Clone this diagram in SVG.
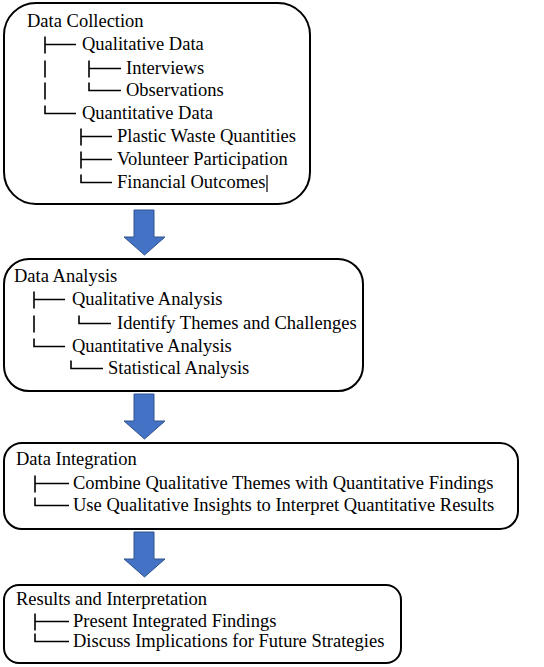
<svg xmlns="http://www.w3.org/2000/svg" width="544" height="667" viewBox="0 0 544 667">
<defs>
<polygon id="arrow" points="0,0 20,0 20,27 31,27 10.5,45 -10,27 0,27" fill="#4472C4" stroke="#2F528F" stroke-width="1"/>
</defs>
<rect width="544" height="667" fill="#fff"/>
<g id="connectors">
<use href="#arrow" x="134" y="210"/>
<use href="#arrow" x="134" y="394"/>
<use href="#arrow" x="134" y="532"/>
</g>
<g id="node-data-collection">
<rect x="4" y="3" width="306" height="201" rx="32" fill="#fff" stroke="#000" stroke-width="2"/>
<text x="27" y="27" style="font-family:'Times New Roman',serif;font-size:18.5px">Data Collection</text>
<text x="82" y="50" style="font-family:'Times New Roman',serif;font-size:18.5px">Qualitative Data</text>
<text x="126" y="74" style="font-family:'Times New Roman',serif;font-size:18.5px">Interviews</text>
<text x="126" y="96" style="font-family:'Times New Roman',serif;font-size:18.5px">Observations</text>
<text x="82" y="119" style="font-family:'Times New Roman',serif;font-size:18.5px">Quantitative Data</text>
<text x="117" y="142" style="font-family:'Times New Roman',serif;font-size:18.5px">Plastic Waste Quantities</text>
<text x="117" y="165" style="font-family:'Times New Roman',serif;font-size:18.5px">Volunteer Participation</text>
<text x="117" y="188" style="font-family:'Times New Roman',serif;font-size:18.5px">Financial Outcomes</text>
<path fill="none" stroke="#000" stroke-width="1.6" d="M45 36.5V53.5M45 44.5H76M45 60.5V77.5M45 82.5V99.5M45 105.5V113.5H76M89 60.5V77.5M89 68.5H121M89 82.5V90.5H121M81 128.5V145.5M81 136.5H112M81 151.5V168.5M81 159.5H112M81 174.5V182.5H112"/>
<path fill="none" stroke="#000" stroke-width="1.2" d="M267 175V192"/>
</g>
<g id="node-data-analysis">
<rect x="4" y="259" width="359" height="132" rx="25" fill="#fff" stroke="#000" stroke-width="2"/>
<text x="14" y="282" style="font-family:'Times New Roman',serif;font-size:18.5px">Data Analysis</text>
<text x="72" y="305" style="font-family:'Times New Roman',serif;font-size:18.5px">Qualitative Analysis</text>
<text x="117" y="329" style="font-family:'Times New Roman',serif;font-size:18.5px">Identify Themes and Challenges</text>
<text x="72" y="352" style="font-family:'Times New Roman',serif;font-size:18.5px">Quantitative Analysis</text>
<text x="108" y="374" style="font-family:'Times New Roman',serif;font-size:18.5px">Statistical Analysis</text>
<path fill="none" stroke="#000" stroke-width="1.6" d="M34 291.5V308.5M34 299.5H65M34 315.5V332.5M34 338.5V346.5H65M79 315.5V323.5H111M71 360.5V368.5H103"/>
</g>
<g id="node-data-integration">
<rect x="4" y="443" width="514" height="86" rx="18" fill="#fff" stroke="#000" stroke-width="2"/>
<text x="16" y="465" style="font-family:'Times New Roman',serif;font-size:18.5px">Data Integration</text>
<text x="73" y="489" style="font-family:'Times New Roman',serif;font-size:18.5px">Combine Qualitative Themes with Quantitative Findings</text>
<text x="73" y="511" style="font-family:'Times New Roman',serif;font-size:18.5px">Use Qualitative Insights to Interpret Quantitative Results</text>
<path fill="none" stroke="#000" stroke-width="1.6" d="M35 475.5V492.5M35 483.5H69M35 497.5V505.5H69"/>
</g>
<g id="node-results">
<rect x="4" y="585" width="397" height="78" rx="15" fill="#fff" stroke="#000" stroke-width="2"/>
<text x="16" y="605" style="font-family:'Times New Roman',serif;font-size:18.5px">Results and Interpretation</text>
<text x="73" y="627" style="font-family:'Times New Roman',serif;font-size:18.5px">Present Integrated Findings</text>
<text x="73" y="647" style="font-family:'Times New Roman',serif;font-size:18.5px">Discuss Implications for Future Strategies</text>
<path fill="none" stroke="#000" stroke-width="1.6" d="M35 613.5V630.5M35 621.5H69M35 633.5V641.5H69"/>
</g>
</svg>
